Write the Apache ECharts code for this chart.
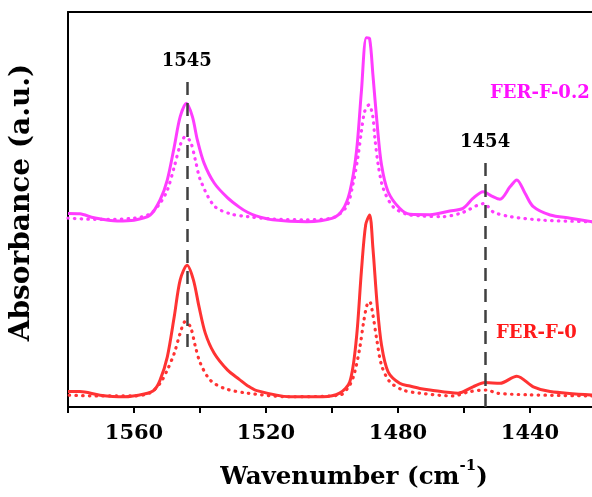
<!DOCTYPE html>
<html>
<head>
<meta charset="utf-8">
<script src="https://cdn.jsdelivr.net/npm/echarts@6/dist/echarts.min.js"></script>
<style>html,body{margin:0;padding:0;background:#fff}#c{width:592px;height:497px}</style>
</head>
<body>
<div id="c"></div>
<script>
// FER-F-0.2 solid (wavenumber, absorbance a.u.)
var fer02Solid = [
[1580,49.0],[1576.4,48.9],[1572.1,47.9],[1565.1,47.1],[1560.0,47.3],[1555.1,48.6],[1552.1,52.4],[1549.9,57.5],[1547.8,65.9],[1546.0,73.5],[1544.1,76.9],[1542.3,73.5],[1540.8,67.6],[1538.8,61.8],[1535.7,56.7],[1531.7,53.0],[1528.1,50.6],[1525.6,49.3],[1523.0,48.4],[1518.0,47.4],[1507.7,46.9],[1499.8,47.8],[1496.8,49.9],[1494.6,54.5],[1492.6,64.6],[1491.1,79.8],[1489.6,93.5],[1488.6,93.2],[1487.6,84.1],[1486.3,71.4],[1485.0,61.3],[1483.0,54.5],[1479.5,50.3],[1476.4,48.8],[1470.3,48.7],[1464.3,49.6],[1460.3,50.3],[1457.3,52.8],[1454.2,54.5],[1451.6,53.4],[1449.1,52.6],[1446.0,55.8],[1444.0,57.5],[1441.5,54.1],[1439.0,50.7],[1433.9,48.6],[1427.8,47.8],[1421.1,46.9]
];
// FER-F-0.2 dotted
var fer02Dot = [
[1580,47.8],[1570.3,47.5],[1560.0,47.8],[1555.1,48.9],[1552.1,51.6],[1549.9,54.9],[1547.8,60.8],[1546.0,66.3],[1544.5,68.4],[1542.9,67.2],[1541.4,62.5],[1539.9,57.5],[1535.7,50.9],[1530.8,48.9],[1525.6,48.2],[1518.0,47.6],[1507.7,47.4],[1499.8,47.9],[1495.6,50.7],[1493.7,56.2],[1492.2,63.0],[1491.1,69.7],[1490.1,74.8],[1488.8,76.5],[1487.7,73.9],[1487.0,68.0],[1486.0,61.3],[1484.5,55.4],[1481.5,50.7],[1477.4,48.8],[1473.4,48.4],[1466.4,48.2],[1461.2,49.0],[1458.2,50.1],[1456.1,51.0],[1453.9,51.5],[1451.2,49.4],[1446.0,48.2],[1436.0,47.3],[1421.1,46.9]
];
// FER-F-0 solid
var fer0Solid = [
[1580,3.9],[1576.4,3.9],[1570.3,3.0],[1563.0,2.6],[1556.9,3.3],[1553.9,4.3],[1552.1,6.8],[1549.9,12.7],[1547.8,22.9],[1546.0,32.2],[1543.9,35.9],[1542.0,32.2],[1540.3,25.4],[1538.4,18.7],[1535.7,13.6],[1531.7,9.4],[1528.1,7.0],[1525.6,5.4],[1523.0,4.2],[1512.9,2.6],[1502.8,2.6],[1497.7,3.5],[1494.6,6.4],[1492.6,17.4],[1491.1,34.3],[1489.8,46.1],[1488.6,48.6],[1487.6,40.2],[1486.3,25.8],[1485.0,15.7],[1483.0,8.9],[1479.5,6.0],[1476.4,5.3],[1473.4,4.7],[1470.3,4.3],[1461.8,3.5],[1457.3,5.1],[1453.6,6.2],[1449.1,6.0],[1444.0,7.8],[1439.0,5.1],[1433.9,3.9],[1421.1,3.0]
];
// FER-F-0 dotted
var fer0Dot = [
[1580,3.0],[1570.3,2.8],[1560.0,2.8],[1555.1,3.6],[1552.1,6.0],[1549.9,9.4],[1547.8,13.6],[1546.0,18.7],[1544.5,21.6],[1542.9,20.3],[1541.4,15.3],[1539.9,11.1],[1536.9,6.8],[1532.6,4.7],[1525.6,3.5],[1512.9,2.6],[1497.7,3.0],[1494.6,5.6],[1493.1,8.9],[1491.6,14.9],[1490.4,21.6],[1489.4,25.8],[1488.6,26.7],[1487.6,23.3],[1486.5,17.4],[1485.0,10.6],[1482.5,6.4],[1478.5,4.3],[1473.4,3.5],[1463.4,2.8],[1458.2,3.9],[1453.1,4.3],[1450.0,3.5],[1440.9,3.1],[1421.1,2.8]
];
var xTickLabels = [1560, 1520, 1480, 1440];
var peakLines = [
  {label: '1545', x: 1544, yTop: 82.3, yBottom: 14.4},
  {label: '1454', x: 1453.6, yTop: 61.8, yBottom: 0}
];
var sampleLabels = ['FER-F-0.2', 'FER-F-0'];

var FONT = 'DejaVu Serif';
var MAG = '#ff3cff', RED = '#ff3333';
var chart = echarts.init(document.getElementById('c'), null, {renderer: 'canvas'});

function asc(d){ return d.slice().reverse(); }
function dotted(color){ return {color: color, width: 3.2, type: [0.5, 6.2], cap: 'round'}; }

chart.setOption({
  animation: false,
  backgroundColor: '#fff',
  grid: {left: 68, top: 12, width: 528, height: 395, containLabel: false, outerBoundsMode: 'none'},
  xAxis: [{
    type: 'value', inverse: true, min: 1420, max: 1580, interval: 20,
    axisLine: {show: true, lineStyle: {color: '#000', width: 2}},
    axisTick: {show: true, length: 6, lineStyle: {color: '#000', width: 2}},
    axisLabel: {
      margin: 16, color: '#000', fontFamily: FONT, fontWeight: 'bold', fontSize: 21,
      formatter: function(v){ return xTickLabels.indexOf(v) >= 0 ? String(v) : ''; }
    },
    splitLine: {show: false},
    name: '{a|Wavenumber (cm}{s|-1}{a|)}',
    nameLocation: 'middle', nameGap: 52,
    nameTextStyle: {
      padding: [0, 0, 0, 44],
      rich: {
        a: {fontFamily: FONT, fontWeight: 'bold', fontSize: 24.5, color: '#000', verticalAlign: 'bottom'},
        s: {fontFamily: FONT, fontWeight: 'bold', fontSize: 15, color: '#000', verticalAlign: 'top', padding: [0, 0, 16, 0]}
      }
    }
  }, {
    type: 'value', position: 'top', inverse: true, min: 1420, max: 1580,
    axisLine: {show: true, lineStyle: {color: '#000', width: 2}},
    axisTick: {show: false}, axisLabel: {show: false}, splitLine: {show: false}
  }],
  yAxis: {
    type: 'value', min: 0, max: 100,
    axisLine: {show: true, lineStyle: {color: '#000', width: 2}},
    axisTick: {show: false}, axisLabel: {show: false}, splitLine: {show: false},
    name: 'Absorbance (a.u.)', nameLocation: 'middle', nameGap: 32,
    nameTextStyle: {fontFamily: FONT, fontWeight: 'bold', fontSize: 28, color: '#000', padding: [0, 0, 0, 14]}
  },
  series: [
    {type: 'line', name: 'FER-F-0.2', data: asc(fer02Solid), showSymbol: false, smooth: 0.3,
     lineStyle: {color: MAG, width: 3}, z: 3},
    {type: 'line', name: 'FER-F-0.2 dotted', data: asc(fer02Dot), showSymbol: false, smooth: 0.3,
     lineStyle: dotted(MAG), z: 3},
    {type: 'line', name: 'FER-F-0', data: asc(fer0Solid), showSymbol: false, smooth: 0.3,
     lineStyle: {color: RED, width: 3}, z: 3},
    {type: 'line', name: 'FER-F-0 dotted', data: asc(fer0Dot), showSymbol: false, smooth: 0.3,
     lineStyle: dotted(RED), z: 3,
     markLine: {
       silent: true, symbol: ['none', 'none'],
       lineStyle: {color: '#404040', width: 2.5, type: [13, 8]},
       label: {show: true, position: 'start', distance: 12, color: '#000', fontFamily: FONT, fontWeight: 'bold', fontSize: 18,
               formatter: function(p){ return p.data.name || p.name; }},
       data: peakLines.map(function(p){
         return [{name: p.label, coord: [p.x, p.yTop]}, {coord: [p.x, p.yBottom]}];
       })
     }}
  ],
  graphic: [
    {type: 'text', left: 490, top: 84, style: {text: sampleLabels[0], fill: '#ff10ff', font: 'bold 18px "DejaVu Serif"'}},
    {type: 'text', left: 496, top: 324, style: {text: sampleLabels[1], fill: '#ff1a1a', font: 'bold 18px "DejaVu Serif"'}}
  ]
});
</script>
</body>
</html>
